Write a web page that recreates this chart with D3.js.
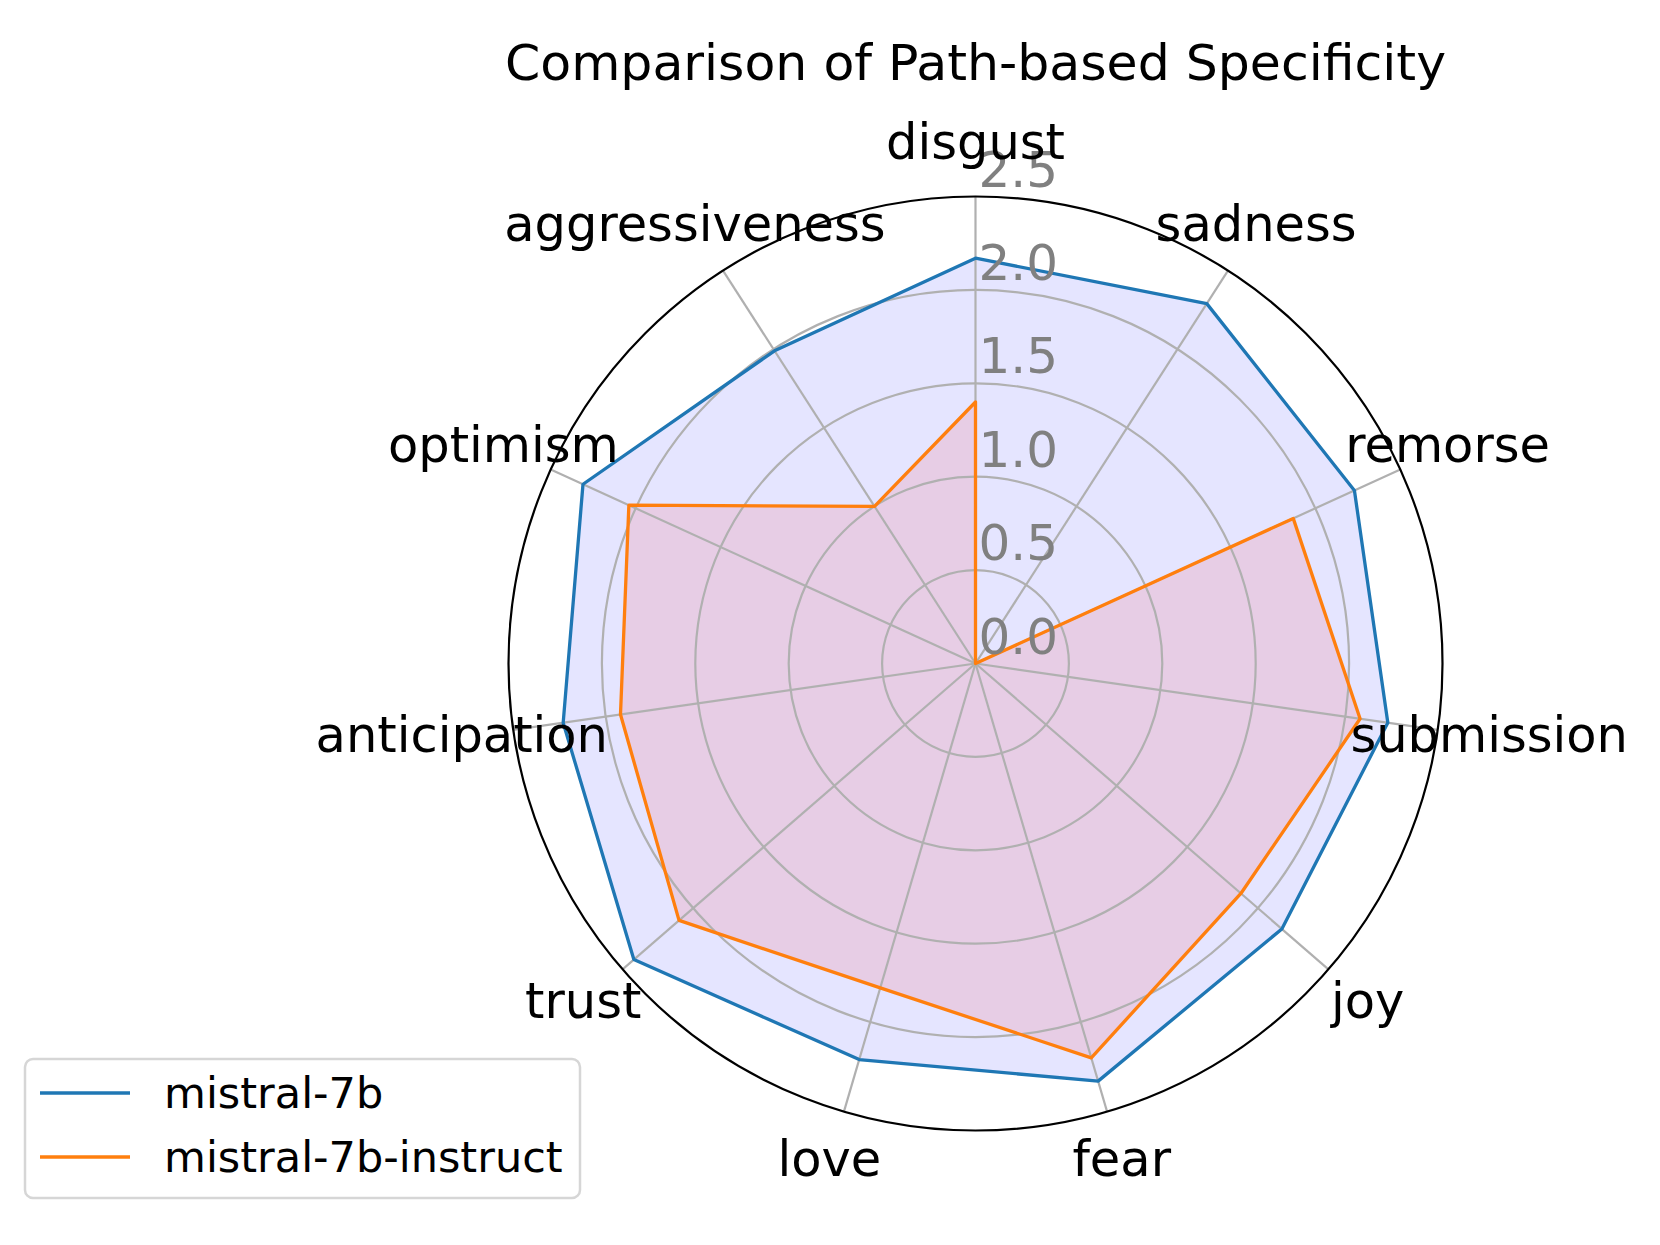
<!DOCTYPE html>
<html>
<head>
<meta charset="utf-8">
<script src="https://cdn.jsdelivr.net/npm/d3@7"></script>
<style>
  body { margin: 0; background: #fff; }
  svg { display: block; font-family: "DejaVu Sans", sans-serif; }
</style>
</head>
<body>
<div id="chart"></div>
<script>
var categories = ["disgust", "sadness", "remorse", "submission", "joy", "fear",
                  "love", "trust", "anticipation", "optimism", "aggressiveness"];
var mistral7b = [2.17, 2.29, 2.23, 2.23, 2.17, 2.33, 2.21, 2.42, 2.23, 2.31, 1.99];
var mistral7bInstruct = [1.40, 0.0, 1.87, 2.08, 1.88, 2.20, 1.81, 2.10, 1.92, 2.04, 1.00];
var rTicks = [0.0, 0.5, 1.0, 1.5, 2.0, 2.5];
var seriesNames = ["mistral-7b", "mistral-7b-instruct"];

var width = 1660, height = 1245;
var cx = 975.5, cy = 663.5, R = 467;

var svg = d3.select("#chart").append("svg")
    .attr("width", width)
    .attr("height", height);

var r = d3.scaleLinear().domain([0, 2.5]).range([0, R]);
var angle = d3.scaleLinear().domain([0, categories.length]).range([0, 2 * Math.PI]);

var g = svg.append("g").attr("transform", "translate(" + cx + "," + cy + ")");

var radial = d3.lineRadial()
    .angle(function(d, i) { return angle(i); })
    .radius(function(d) { return r(d); })
    .curve(d3.curveLinearClosed);

// fills (below the grid, like matplotlib patches)
g.append("path").attr("d", radial(mistral7b))
    .attr("fill", "blue").attr("fill-opacity", 0.1);
g.append("path").attr("d", radial(mistral7bInstruct))
    .attr("fill", "red").attr("fill-opacity", 0.1);

// grid circles
g.selectAll("circle.grid")
    .data(rTicks.filter(function(d) { return d > 0 && d < 2.5; }))
    .enter()
    .append("circle")
    .attr("class", "grid")
    .attr("r", function(d) { return r(d); })
    .attr("fill", "none")
    .attr("stroke", "#b0b0b0")
    .attr("stroke-width", 2.2);

// spokes
g.selectAll("line.spoke")
    .data(categories)
    .enter()
    .append("line")
    .attr("x1", 0).attr("y1", 0)
    .attr("x2", function(d, i) { return R * Math.sin(angle(i)); })
    .attr("y2", function(d, i) { return -R * Math.cos(angle(i)); })
    .attr("stroke", "#b0b0b0")
    .attr("stroke-width", 2.2);

// lines
g.append("path").attr("d", radial(mistral7b))
    .attr("fill", "none").attr("stroke", "#1f77b4")
    .attr("stroke-width", 3.3).attr("stroke-linejoin", "round");
g.append("path").attr("d", radial(mistral7bInstruct))
    .attr("fill", "none").attr("stroke", "#ff7f0e")
    .attr("stroke-width", 3.3).attr("stroke-linejoin", "round");

// outer spine
g.append("circle")
    .attr("r", R)
    .attr("fill", "none")
    .attr("stroke", "black")
    .attr("stroke-width", 2.2);

// radial tick labels
g.selectAll("text.rtick")
    .data(rTicks)
    .enter()
    .append("text")
    .attr("x", 3)
    .attr("y", function(d) { return -r(d) - 10; })
    .attr("fill", "#808080")
    .attr("font-size", 50)
    .text(function(d) { return d.toFixed(1); });

// category labels
g.selectAll("text.cat")
    .data(categories)
    .enter()
    .append("text")
    .attr("x", function(d, i) { return 519 * Math.sin(angle(i)); })
    .attr("y", function(d, i) { return -519 * Math.cos(angle(i)) - 2.5; })
    .attr("text-anchor", "middle")
    .attr("dominant-baseline", "central")
    .attr("font-size", 49.5)
    .attr("fill", "black")
    .text(function(d) { return d; });

// title
svg.append("text")
    .attr("x", cx)
    .attr("y", 80)
    .attr("text-anchor", "middle")
    .attr("font-size", 50.5)
    .text("Comparison of Path-based Specificity");

// legend
var legend = svg.append("g");
legend.append("rect")
    .attr("x", 25).attr("y", 1059)
    .attr("width", 555).attr("height", 139)
    .attr("rx", 8).attr("ry", 8)
    .attr("fill", "white").attr("fill-opacity", 0.8)
    .attr("stroke", "#d6d6d6").attr("stroke-width", 2.5);

var legendColors = ["#1f77b4", "#ff7f0e"];
var ly = d3.scalePoint().domain(seriesNames).range([1093, 1157]);

legend.selectAll("line.key")
    .data(seriesNames)
    .enter()
    .append("line")
    .attr("x1", 40).attr("x2", 130)
    .attr("y1", function(d) { return ly(d); })
    .attr("y2", function(d) { return ly(d); })
    .attr("stroke", function(d, i) { return legendColors[i]; })
    .attr("stroke-width", 3.3);

legend.selectAll("text.key")
    .data(seriesNames)
    .enter()
    .append("text")
    .attr("x", 164)
    .attr("y", function(d) { return ly(d); })
    .attr("dominant-baseline", "central")
    .attr("font-size", 43)
    .text(function(d) { return d; });
</script>
</body>
</html>
